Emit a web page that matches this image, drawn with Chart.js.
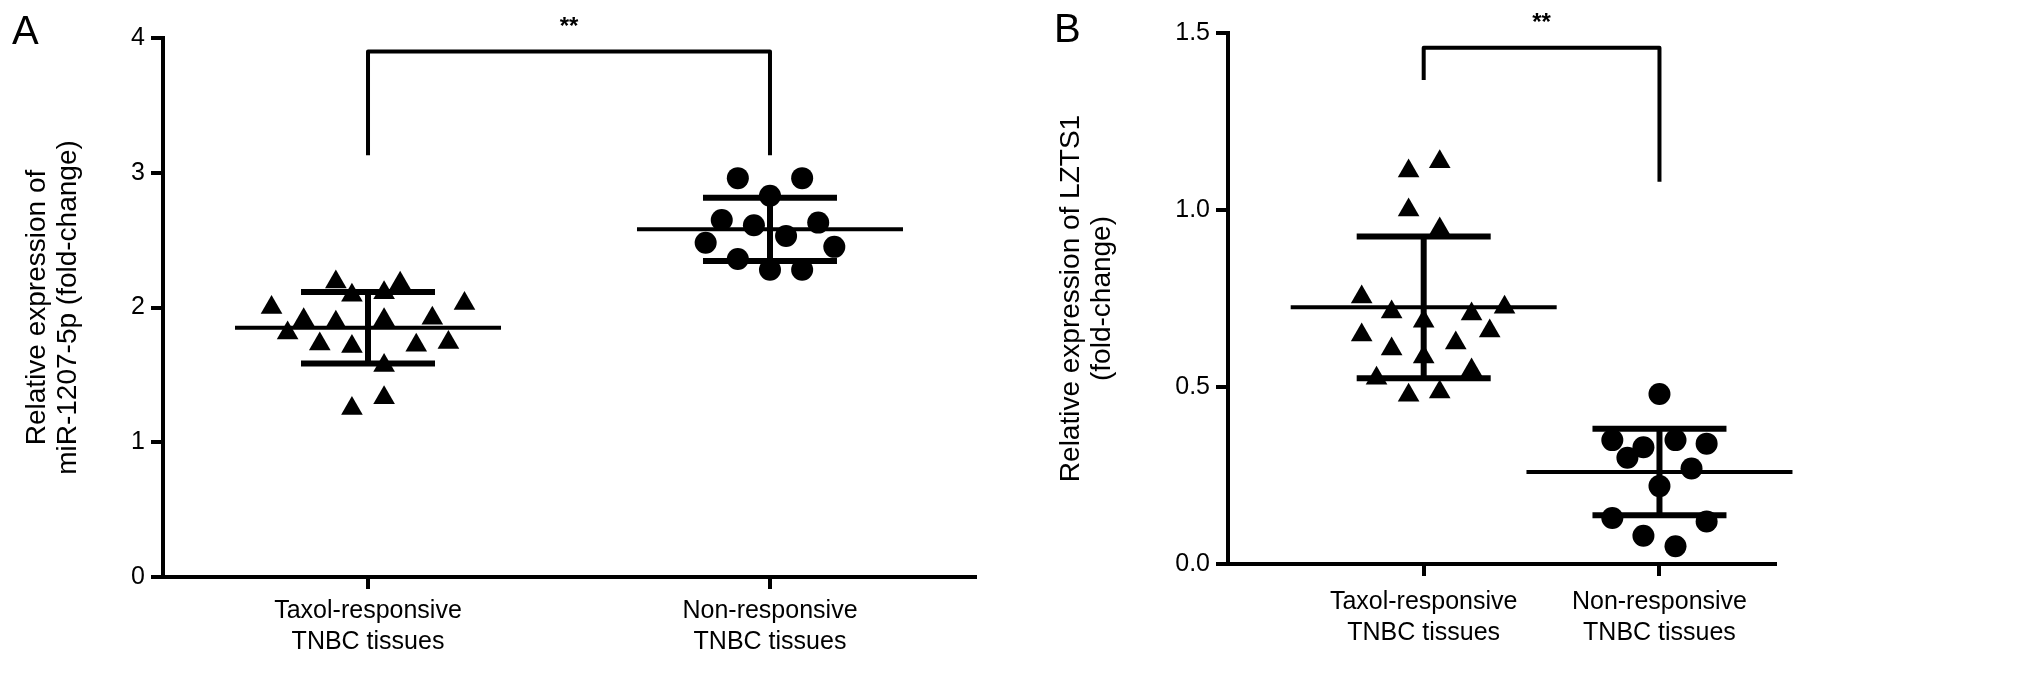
<!DOCTYPE html>
<html>
<head>
<meta charset="utf-8">
<script src="https://cdn.jsdelivr.net/npm/chart.js@4.4.1/dist/chart.umd.min.js"></script>
<style>
   html, body { margin: 0; padding: 0; background: #fff; }
   body { width: 2032px; height: 680px; position: relative; overflow: hidden; font-family: "Liberation Sans", Arial, sans-serif; }
   canvas { position: absolute; top: 0; }
   .letter { position: absolute; font-size: 40px; color: #000; z-index: 2; }
</style>
</head>
<body>
<canvas id="chartA" style="left:0" width="1016" height="680"></canvas>
<canvas id="chartB" style="left:1016px" width="1016" height="680"></canvas>
<div class="letter" style="left:12px;top:8px">A</div>
<div class="letter" style="left:1054px;top:6px">B</div>
<script>

const groups = [["Taxol-responsive", "TNBC tissues"], ["Non-responsive", "TNBC tissues"]];

/* panel A : miR-1207-5p */
const mirTaxol = [2.19, 2.09, 2.11, 2.18, 2.00, 1.91, 1.89, 1.91, 1.92, 2.03, 1.81, 1.73, 1.71, 1.72, 1.74, 1.57, 1.33, 1.25];
const mirTaxolJitter = [-0.08, -0.04, 0.04, 0.08, -0.24, -0.16, -0.08, 0.04, 0.16, 0.24, -0.2, -0.12, -0.04, 0.12, 0.2, 0.04, 0.04, -0.04];
const mirNon = [2.96, 2.96, 2.83, 2.65, 2.61, 2.63, 2.53, 2.48, 2.45, 2.36, 2.28, 2.28];
const mirNonJitter = [-0.08, 0.08, 0, -0.12, -0.04, 0.12, 0.04, -0.16, 0.16, -0.08, 0, 0.08];
const mirMean = [1.85, 2.58];
const mirSD = [0.265, 0.235];
const mirTicks = [0, 1, 2, 3, 4];
const mirBracket = {top: 3.90, legs: [3.13, 3.13], label: "**"};

/* panel B : LZTS1 */
const lztsTaxol = [1.136, 1.11, 1.00, 0.946, 0.754, 0.712, 0.686, 0.706, 0.658, 0.647, 0.607, 0.624, 0.585, 0.525, 0.548, 0.477, 0.486, 0.725];
const lztsTaxolJitter = [0.068, -0.064, -0.064, 0.068, -0.263, -0.136, 0, 0.203, 0.28, -0.263, -0.136, 0.136, 0, -0.2, 0.203, -0.064, 0.068, 0.343];
const lztsNon = [0.48, 0.35, 0.33, 0.35, 0.34, 0.30, 0.27, 0.22, 0.13, 0.12, 0.08, 0.05];
const lztsNonJitter = [0, -0.2, -0.068, 0.068, 0.2, -0.136, 0.136, 0, -0.2, 0.2, -0.068, 0.068];
const lztsMean = [0.725, 0.26];
const lztsSD = [0.2, 0.122];
const lztsTicks = [0, 0.5, 1.0, 1.5];
const lztsBracket = {top: 1.458, legs: [1.367, 1.08], label: "**"};

const FONT = "Liberation Sans";

/* mean line, SD whiskers and the significance bracket */
const meanSdPlugin = {
   id: "meanSd",
   afterDatasetsDraw(chart, args, opts) {
      const ctx = chart.ctx, x = chart.scales.x, y = chart.scales.y;
      const seg = (x0, y0, x1, y1) => { ctx.beginPath(); ctx.moveTo(x0, y0); ctx.lineTo(x1, y1); ctx.stroke(); };
      ctx.save();
      ctx.strokeStyle = "#000";
      opts.means.forEach((m, i) => {
         let cx = x.getPixelForValue(i + 1),
            ym = y.getPixelForValue(m),
            yt = y.getPixelForValue(m + opts.sds[i]),
            yb = y.getPixelForValue(m - opts.sds[i]);
         ctx.lineWidth = 4;
         seg(cx - 133, ym, cx + 133, ym);
         ctx.lineWidth = 6;
         seg(cx, yt, cx, yb);
         seg(cx - 67, yt, cx + 67, yt);
         seg(cx - 67, yb, cx + 67, yb);
      });
      /* - - */
      let b = opts.bracket,
         x1 = x.getPixelForValue(1), x2 = x.getPixelForValue(2),
         top = y.getPixelForValue(b.top);
      ctx.lineWidth = 4;
      ctx.lineJoin = "round";
      ctx.beginPath();
      ctx.moveTo(x1, y.getPixelForValue(b.legs[0]));
      ctx.lineTo(x1, top);
      ctx.lineTo(x2, top);
      ctx.lineTo(x2, y.getPixelForValue(b.legs[1]));
      ctx.stroke();
      ctx.fillStyle = "#000";
      ctx.font = "bold 24px '" + FONT + "'";
      ctx.textAlign = "center";
      ctx.textBaseline = "middle";
      ctx.fillText(b.label, (x1 + x2) / 2, top - 24);
      ctx.restore();
   }
};

function points(values, jitter, col) {
   return values.map((v, i) => ({x: col + jitter[i], y: v}));
}

function dotSet(values, jitter, col, style, radius) {
   return {
      type: "scatter",
      data: points(values, jitter, col),
      pointStyle: style,
      pointRadius: radius,
      pointBackgroundColor: "#000",
      pointBorderColor: "#000",
      pointBorderWidth: 0
   };
}

function makeChart(id, p) {
   let ctx = document.getElementById(id);
   let conf = {
      type: "scatter",
      data: {
         datasets: [
            dotSet(p.a, p.aJit, 1, "triangle", 12.5),
            dotSet(p.b, p.bJit, 2, "circle", 11)
         ]
      },
      options: {
         responsive: false,
         animation: false,
         devicePixelRatio: 1,
         events: [],
         layout: {padding: p.pad},
         scales: {
            x: {
               type: "linear",
               min: p.xMin,
               max: p.xMax,
               afterBuildTicks: s => { s.ticks = [{value: 1}, {value: 2}]; },
               afterFit: s => { s.height = p.xHeight; },
               ticks: {
                  color: "#000",
                  padding: p.xPad,
                  font: {family: FONT, size: 25, lineHeight: 1.25},
                  callback: v => groups[v - 1]
               },
               grid: {drawOnChartArea: false, drawTicks: true, tickLength: 12, color: "#000", lineWidth: 4},
               border: {display: true, color: "#000", width: 4}
            },
            y: {
               min: p.ticks[0],
               max: p.ticks[p.ticks.length - 1],
               afterBuildTicks: s => { s.ticks = p.ticks.map(v => ({value: v})); },
               afterFit: s => { s.width = p.yWidth; },
               ticks: {
                  color: "#000",
                  padding: 6,
                  font: {family: FONT, size: 25},
                  callback: p.fmt
               },
               grid: {drawOnChartArea: false, drawTicks: true, tickLength: 12, color: "#000", lineWidth: 4},
               border: {display: true, color: "#000", width: 4},
               title: {
                  display: true,
                  text: p.title,
                  color: "#000",
                  padding: {top: 0, bottom: 4},
                  font: {family: FONT, size: 28, lineHeight: 1.1}
               }
            }
         },
         plugins: {
            legend: {display: false},
            tooltip: {enabled: false},
            meanSd: {means: p.means, sds: p.sds, bracket: p.bracket}
         }
      },
      plugins: [meanSdPlugin]
   };
   return new Chart(ctx, conf);
}

makeChart("chartA", {
   a: mirTaxol, aJit: mirTaxolJitter, b: mirNon, bJit: mirNonJitter,
   means: mirMean, sds: mirSD, bracket: mirBracket, ticks: mirTicks,
   fmt: v => String(v),
   title: ["Relative expression of", "miR-1207-5p (fold-change)"],
   xMin: 0.49, xMax: 2.51,
   pad: {left: 22, top: 38, right: 41, bottom: 0},
   yWidth: 141, xHeight: 103, xPad: 6
});

makeChart("chartB", {
   a: lztsTaxol, aJit: lztsTaxolJitter, b: lztsNon, bJit: lztsNonJitter,
   means: lztsMean, sds: lztsSD, bracket: lztsBracket, ticks: lztsTicks,
   fmt: v => v.toFixed(1),
   title: ["Relative expression of LZTS1", "(fold-change)"],
   xMin: 0.17, xMax: 2.49,
   pad: {left: 40, top: 33, right: 257, bottom: 0},
   yWidth: 172, xHeight: 116, xPad: 10
});

</script>
</body>
</html>
